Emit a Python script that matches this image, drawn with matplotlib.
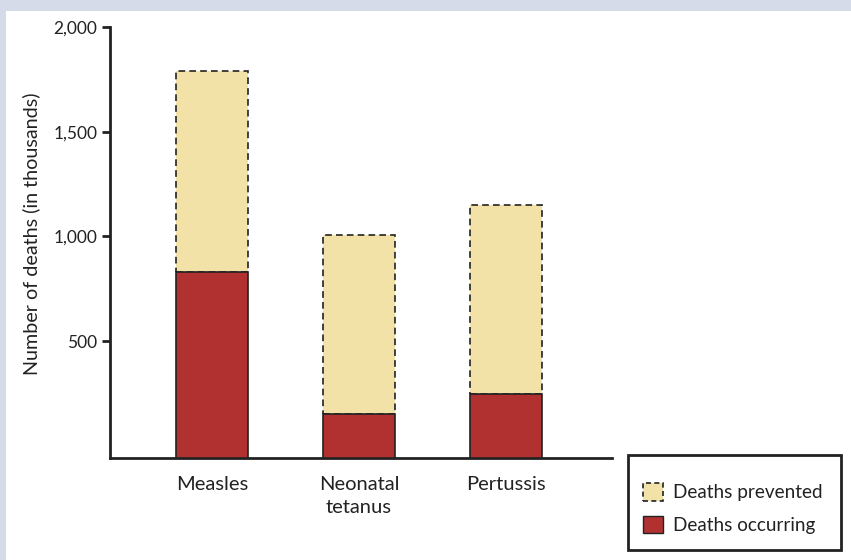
import numpy as np
import matplotlib.pyplot as plt
from matplotlib.patches import Patch, Rectangle

# values in thousands of deaths
categories = ["Measles", "Neonatal\ntetanus", "Pertussis"]
deaths_occurring = [830, 152, 248]
deaths_total = [1790, 1005, 1150]
deaths_prevented = [t - o for t, o in zip(deaths_total, deaths_occurring)]
yticks = [500, 1000, 1500, 2000]
ytick_labels = ["500", "1,000", "1,500", "2,000"]

RED = "#b13131"
YELLOW = "#f3e2a8"
EDGE = "#222222"
BASE = -58  # axis floor sits a bit under zero in the original artwork

plt.rcParams["font.family"] = ["Lato", "DejaVu Sans"]

fig = plt.figure(figsize=(8.51, 5.6), dpi=100)
fig.patch.set_facecolor("white")
# light frame of the page (top and left)
fig.patches.append(Rectangle((0, 1 - 11 / 560), 1, 11 / 560, transform=fig.transFigure,
                             facecolor="#d5dbe8", edgecolor="none", zorder=0))
fig.patches.append(Rectangle((0, 0), 6 / 851, 1, transform=fig.transFigure,
                             facecolor="#d5dbe8", edgecolor="none", zorder=0))

ax = fig.add_axes([110 / 851, 102 / 560, 502 / 851, 431 / 560])
x = np.arange(len(categories))
w = 0.49

occ_h = [o - BASE for o in deaths_occurring]
ax.bar(x, occ_h, w, bottom=BASE, color=RED, edgecolor=EDGE, linewidth=1.2, zorder=3)
ax.bar(x, deaths_prevented, w, bottom=deaths_occurring, color=YELLOW, edgecolor=EDGE,
       linewidth=1.2, linestyle=(0, (4, 2.5)), zorder=2)

ax.set_xlim(-0.694, 2.72)
ax.set_ylim(BASE, 2000)
ax.set_yticks(yticks)
ax.set_yticklabels(ytick_labels, fontsize=12.5, color="#222222")
ax.set_xticks(x)
ax.set_xticklabels(categories, fontsize=14.5, color="#222222", linespacing=1.45)
ax.tick_params(axis="x", length=0, pad=13)
ax.tick_params(axis="y", length=6, width=2, color="#222222", pad=3)
ax.set_ylabel("Number of deaths (in thousands)", fontsize=14.2, color="#222222")
ax.yaxis.set_label_coords(-0.139, 0.52)

for s in ["top", "right"]:
    ax.spines[s].set_visible(False)
for s in ["left", "bottom"]:
    ax.spines[s].set_linewidth(2)
    ax.spines[s].set_color("#222222")

# legend box drawn separately so its padding can differ from the text layout
box = (628 / 851, 10 / 560, 213 / 851, 95 / 560)
fig.patches.append(Rectangle(box[:2], box[2], box[3], transform=fig.transFigure,
                             facecolor="white", edgecolor="#222222", linewidth=2, zorder=1))
handles = [
    Patch(facecolor=YELLOW, edgecolor=EDGE, linestyle=(0, (3, 2)), linewidth=1.2, label="Deaths prevented"),
    Patch(facecolor=RED, edgecolor=EDGE, linewidth=1.0, label="Deaths occurring"),
]
leg = fig.legend(handles=handles, loc="center left",
                 bbox_to_anchor=(box[0], box[1] - 6 / 560, box[2], box[3]),
                 fontsize=13.6, frameon=False, borderpad=0.8,
                 labelspacing=0.75, handlelength=1.05, handleheight=1.05, handletextpad=0.55,
                 borderaxespad=0)
for t in leg.get_texts():
    t.set_color("#222222")

fig.savefig("out.png", dpi=100)
